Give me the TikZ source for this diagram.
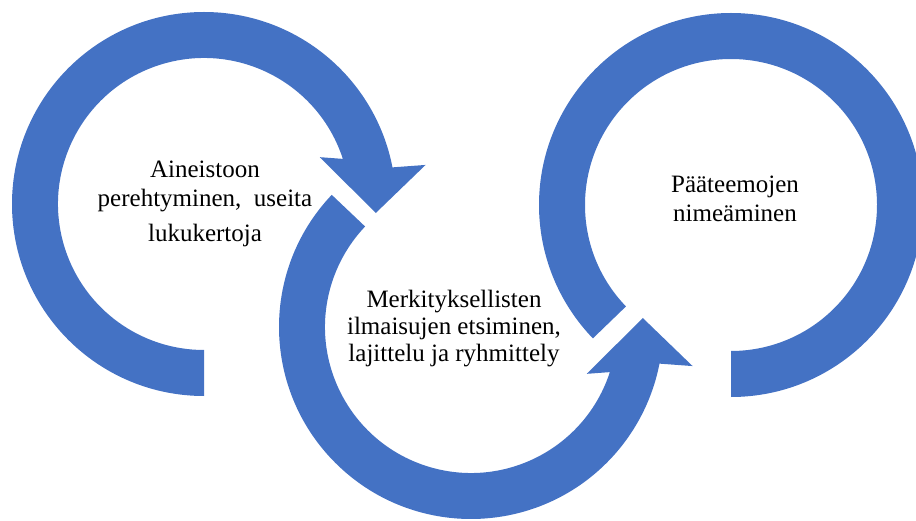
\documentclass[tikz,border=0pt]{standalone}
\usepackage{fontspec}
\setmainfont{Liberation Serif}
\usepackage{tikz}
\usetikzlibrary{positioning}
\definecolor{cycleblue}{HTML}{4472C4}

\begin{document}
\begin{tikzpicture}[x=1pt, y=1pt,
                ring/.style={fill=cycleblue},
                phase/.style={font=\fontsize{25}{29}\selectfont, align=center, text=black}
            ]
            \useasboundingbox (0,0) rectangle (916,520);
            \coordinate (c1) at (204,316);
            \coordinate (c2) at (471,193);
            \coordinate (c3) at (731,315);
            % first step, clockwise
            \fill[ring, shift={(c1)}] (270:192) arc[start angle=270, end angle=11, radius=192]
                -- (10:225) -- (-3:172) -- (22:125) -- (18:146)
                arc[start angle=18, end angle=270, radius=146] -- cycle;
            % second step, counterclockwise
            \fill[ring, shift={(c2)}] (136.5:192) arc[start angle=136.5, end angle=349, radius=192]
                -- (350:225) -- (3:172) -- (338:125) -- (342:146)
                arc[start angle=342, end angle=136.5, radius=146] -- cycle;
            % last step, no head
            \fill[ring, shift={(c3)}] (270:192) arc[start angle=-90, end angle=224, radius=192]
                -- (224:146) arc[start angle=224, end angle=-90, radius=146] -- cycle;
            \node[phase] (t1) at ([xshift=1pt]c1) {Aineistoon\\perehtyminen,\ \ useita\\[6pt]lukukertoja};
            \node[phase, font=\fontsize{25}{27}\selectfont] (t2) at ([xshift=-17pt, yshift=-2pt]c2) {Merkityksellisten\\ilmaisujen etsiminen,\\lajittelu ja ryhmittely};
            \node[phase] (t3) at ([xshift=4pt, yshift=6pt]c3) {Pääteemojen\\nimeäminen};
        \end{tikzpicture}
\end{document}
